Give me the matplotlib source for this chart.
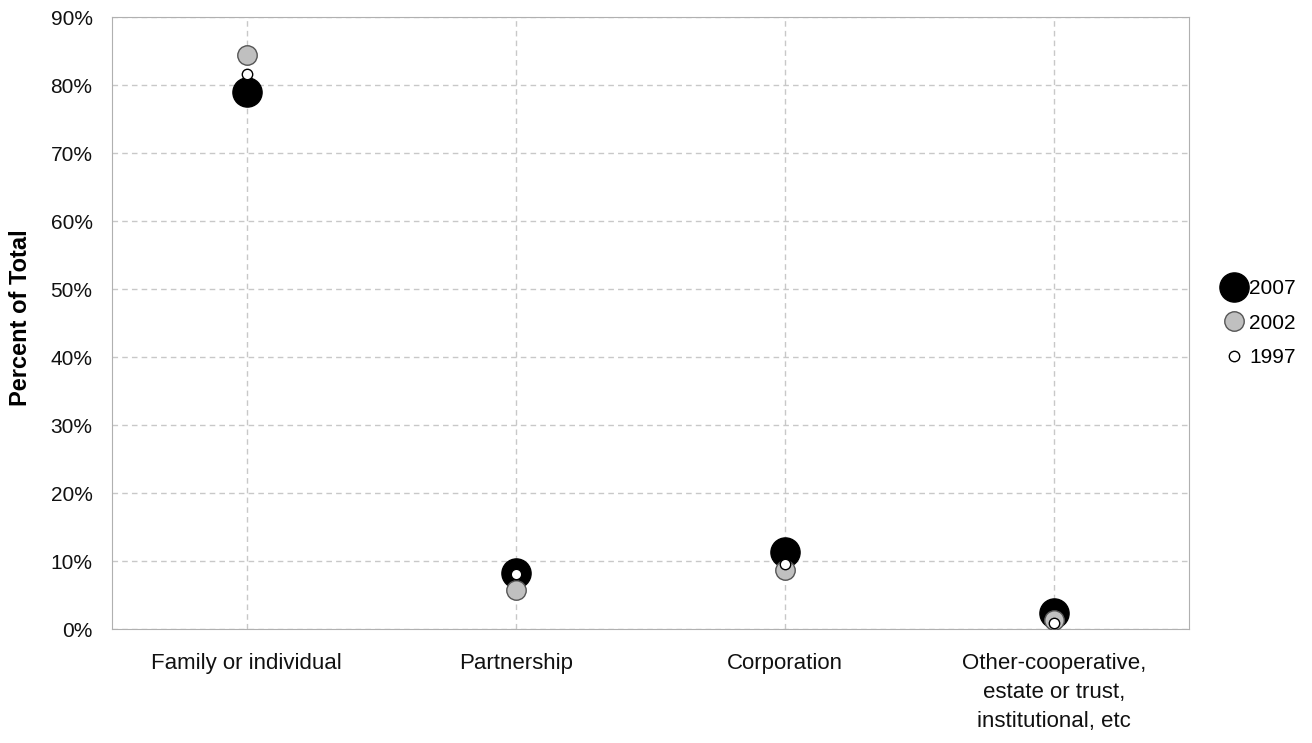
import matplotlib
matplotlib.use('Agg')
import matplotlib.pyplot as plt
import numpy as np
from matplotlib.ticker import FuncFormatter

# values (percent of total)
categories = ['Family or individual', 'Partnership', 'Corporation',
              'Other-cooperative,\nestate or trust,\ninstitutional, etc']
years = ['2007', '2002', '1997']
vals_2007 = [79.0, 8.2, 11.3, 2.4]
vals_2002 = [84.4, 5.7, 8.7, 1.3]
vals_1997 = [81.6, 8.1, 9.6, 0.9]

plt.rcParams['font.family'] = ['Liberation Sans', 'DejaVu Sans']

fig = plt.figure(figsize=(13.12, 7.43), dpi=100)
ax = fig.add_axes([0.0854, 0.1534, 0.8208, 0.8237])

x = np.arange(len(categories))
ax.plot(x, vals_2007, linestyle='none', marker='o', markersize=21,
        markerfacecolor='black', markeredgecolor='black', label=years[0], zorder=3)
ax.plot(x, vals_2002, linestyle='none', marker='o', markersize=14,
        markerfacecolor='#c0c0c0', markeredgecolor='#555555', markeredgewidth=1.0,
        label=years[1], zorder=4)
ax.plot(x, vals_1997, linestyle='none', marker='o', markersize=7.5,
        markerfacecolor='white', markeredgecolor='black', markeredgewidth=1.0,
        label=years[2], zorder=5)

ax.set_xlim(-0.5, len(categories) - 0.5)
ax.set_ylim(0, 90)
ax.set_yticks(np.arange(0, 91, 10))
ax.yaxis.set_major_formatter(FuncFormatter(lambda v, p: f'{v:.0f}%'))
ax.set_xticks(x)
ax.set_xticklabels(categories, fontsize=16, linespacing=1.5, va='top')
ax.tick_params(axis='y', labelsize=15, length=0, pad=14, labelcolor='#111111')
ax.tick_params(axis='x', length=0, pad=17, labelcolor='#111111')
fig.text(21 / 1312, 1 - 318 / 743, 'Percent of Total', rotation=90,
         ha='center', va='center', fontsize=17, fontweight='bold')

ax.grid(True, color='#c8c8c8', linestyle=(0, (4, 3)), linewidth=1.0)
ax.set_axisbelow(True)
for s in ax.spines.values():
    s.set_color('#b0b0b0')

leg = ax.legend(loc='center left', bbox_to_anchor=(1.018, 0.50), frameon=False,
                fontsize=15, handletextpad=0.05, labelspacing=0.75,
                handlelength=1.3, borderaxespad=0.2)

fig.savefig('out.png', dpi=100)
